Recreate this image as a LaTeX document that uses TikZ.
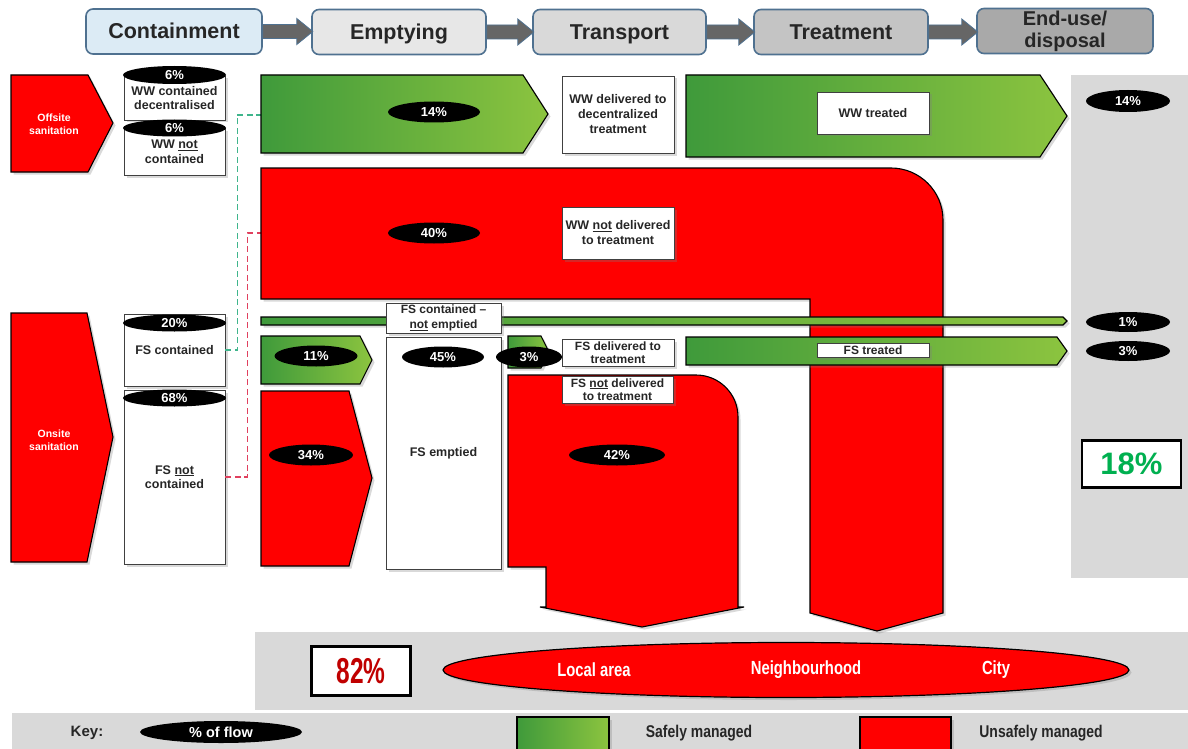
\documentclass[tikz,border=0pt]{standalone}
\usepackage{fontspec}
\usepackage{graphicx}
\setmainfont{Liberation Sans}
\usetikzlibrary{shapes.geometric,shadows}
\definecolor{hdrb}{HTML}{4F7190}
\definecolor{hcA}{HTML}{DCEBF5}
\definecolor{hcB}{HTML}{E7E7E7}
\definecolor{hcC}{HTML}{D9D9D9}
\definecolor{hcD}{HTML}{C4C4C4}
\definecolor{hcE}{HTML}{A9A9A9}
\definecolor{harrowc}{HTML}{666666}
\definecolor{sred}{HTML}{FF0000}
\definecolor{panel}{HTML}{D9D9D9}
\definecolor{gdark}{HTML}{3F9A3B}
\definecolor{glight}{HTML}{8CC43F}
\definecolor{tealdash}{HTML}{3FB58C}
\definecolor{reddash}{HTML}{E0405E}
\definecolor{darkred}{HTML}{C00000}
\definecolor{okgreen}{HTML}{00B050}
\definecolor{txt}{HTML}{262626}
\begin{document}
\begin{tikzpicture}[x=1pt,y=-1pt,
  softshadow/.style={drop shadow={opacity=0.3,shadow xshift=2.5pt,shadow yshift=-2.5pt}},
  hdr/.style={draw=hdrb,line width=1.6pt,rounded corners=7pt,minimum height=45pt,inner sep=0pt,text=txt,text height=17pt,text depth=2pt,font=\fontsize{21.5}{21.5}\selectfont\bfseries},
  harrow/.style={fill=harrowc,draw=hdrb,line width=0.8pt},
  pill/.style={ellipse,fill=black,inner sep=0pt,text=white,font=\fontsize{13}{14}\selectfont\bfseries},
  wbox/.style={draw=black!75,fill=white,align=center,inner sep=0pt,line width=0.8pt,text=txt,font=\fontsize{12.5}{14.5}\selectfont\bfseries,softshadow},
  redflow/.style={fill=sred,draw=black,line width=1.1pt,softshadow},
  greenflow/.style={left color=gdark,right color=glight,draw=black,line width=1.1pt,softshadow},
  srclbl/.style={text=white,align=center,font=\fontsize{10.5}{13}\selectfont\bfseries},
  bigbox/.style={draw=black,line width=2.5pt,fill=white,inner sep=0pt,minimum width=99pt,minimum height=47pt},
  narrow/.style={text=white,font=\fontsize{19}{20}\selectfont\bfseries},
  keytxt/.style={text=txt,font=\fontsize{17}{18}\selectfont\bfseries},
  flowdash/.style={line width=1.5pt,dash pattern=on 6pt off 3.5pt},
]
\useasboundingbox (0,0) rectangle (1188,749);

% ---------- header ----------
\node[hdr,fill=hcA,minimum width=176pt] (contain) at (174,31.5) {Containment};
\node[hdr,fill=hcB,minimum width=174pt] (empty) at (399,32) {Emptying};
\node[hdr,fill=hcC,minimum width=173pt] (transp) at (619.5,32) {Transport};
\node[hdr,fill=hcD,minimum width=174pt] (treat) at (841,32) {Treatment};
\node[hdr,fill=hcE,minimum width=176pt,align=center,text height=,text depth=,font=\fontsize{20}{22}\selectfont\bfseries] (enduse) at (1065,31) {End-use/\\disposal};
\path[harrow] (contain.east) ++(0,-7) -- ++(34,0) -- ++(0,-6) -- ++(16,13) -- ++(-16,13) -- ++(0,-6) -- ++(-34,0) -- cycle;
\path[harrow] (empty.east) ++(0,-7) -- ++(31,0) -- ++(0,-6) -- ++(16,13) -- ++(-16,13) -- ++(0,-6) -- ++(-31,0) -- cycle;
\path[harrow] (transp.east) ++(0,-7) -- ++(32,0) -- ++(0,-6) -- ++(16,13) -- ++(-16,13) -- ++(0,-6) -- ++(-32,0) -- cycle;
\path[harrow] (treat.east) ++(0,-7) -- ++(33,0) -- ++(0,-6) -- ++(16,13) -- ++(-16,13) -- ++(0,-6) -- ++(-33,0) -- cycle;

% ---------- panels ----------
\fill[panel] (1071,75) rectangle (1188,578);
\fill[panel] (255,632) rectangle (1188,710);
\fill[panel] (12,713) rectangle (1188,752);

% ---------- sources ----------
\path[redflow] (11,75) -- (88,75) -- (113,123) -- (88,172) -- (11,172) -- cycle;
\node[srclbl] (offsite) at (54,124) {Offsite\\sanitation};
\path[redflow] (11,313) -- (87,313) -- (113,437) -- (87,562) -- (11,562) -- cycle;
\node[srclbl] (onsite) at (54,440) {Onsite\\sanitation};

% ---------- containment boxes ----------
\node[wbox,minimum width=101pt,minimum height=44pt] (wwc) at (174.5,98) {WW contained\\decentralised};
\node[pill,minimum width=103pt,minimum height=18pt] (p6a) at (174.5,75) {6\%};
\node[wbox,minimum width=101pt,minimum height=47pt] (wwnc) at (174.5,152) {WW \underline{not}\\contained};
\node[pill,minimum width=103pt,minimum height=17pt] (p6b) at (174.5,128) {6\%};
\node[wbox,minimum width=101pt,minimum height=72pt] (fsc) at (174.5,350) {FS contained};
\node[pill,minimum width=103pt,minimum height=17pt] (p20) at (174.5,323) {20\%};
\node[wbox,minimum width=101pt,minimum height=174pt] (fsnc) at (174.5,477) {FS \underline{not}\\contained};
\node[pill,minimum width=103pt,minimum height=17pt] (p68) at (174.5,398) {68\%};

% ---------- flows ----------
\coordinate (g14in) at (261,115);
\coordinate (r40in) at (261,233);
\draw[flowdash,draw=tealdash] (fsc.east) -- ++(12,0) |- (g14in);
\draw[flowdash,draw=reddash] (fsnc.east) -- ++(22,0) |- (r40in);

\path[greenflow] (261,75) -- (523,75) -- (548,114) -- (523,153) -- (261,153) -- cycle;
\path[greenflow] (686,75) -- (1040,75) -- (1067,116) -- (1040,157) -- (686,157) -- cycle;

\path[redflow] (261,168) -- (891,168) .. controls (919.7,168) and (943,191.3) .. (943,220) -- (943,613) -- (877,631) -- (810,613) -- (810,299) -- (261,299) -- cycle;

\path[greenflow] (261,317) -- (1063,317) -- (1067,321) -- (1063,325) -- (261,325) -- cycle;
\path[greenflow] (261,336) -- (360,336) -- (372,360) -- (360,384) -- (261,384) -- cycle;
\path[redflow] (261,391) -- (349,391) -- (372,478) -- (349,566) -- (261,566) -- cycle;
\path[greenflow] (508,336) -- (541,336) -- (549,352) -- (541,368) -- (508,368) -- cycle;
\path[greenflow] (686,337) -- (1057,337) -- (1067,351) -- (1057,365) -- (686,365) -- cycle;

\path[redflow] (508,375) -- (696,375) .. controls (719.2,375) and (738,393.8) .. (738,417) -- (738,607) -- (744,607) -- (642,627) -- (540,607) -- (546,607) -- (546,567) -- (508,567) -- cycle;

% ---------- labels on flows ----------
\node[wbox,minimum width=112pt,minimum height=77pt,font=\fontsize{12.5}{15}\selectfont\bfseries] (wwdel) at (618,114.5) {WW delivered to\\decentralized\\treatment};
\node[wbox,minimum width=112pt,minimum height=42pt,font=\fontsize{12.5}{13}\selectfont\bfseries] (wwtr) at (873,113) {WW treated};
\node[wbox,minimum width=112pt,minimum height=52pt,font=\fontsize{12.5}{15}\selectfont\bfseries] (wwnd) at (618,233) {WW \underline{not} delivered\\to treatment};
\node[wbox,minimum width=115pt,minimum height=30pt,font=\fontsize{12}{15}\selectfont\bfseries] (fscne) at (443.5,318) {FS contained --\\\underline{not} emptied};
\node[wbox,minimum width=115pt,minimum height=232pt] (fsemp) at (443.5,453) {FS emptied};
\node[wbox,minimum width=112pt,minimum height=27pt,font=\fontsize{12}{13.5}\selectfont\bfseries] (fsdel) at (618,352.5) {FS delivered to\\treatment};
\node[wbox,minimum width=111pt,minimum height=27pt,font=\fontsize{12}{13.5}\selectfont\bfseries] (fsnd) at (617.5,389.5) {FS \underline{not} delivered\\to treatment};
\node[wbox,minimum width=112pt,minimum height=14pt,font=\fontsize{12}{12}\selectfont\bfseries] (fstr) at (873,350) {FS treated};

% ---------- percentage pills ----------
\node[pill,minimum width=92pt,minimum height=21pt] (p14a) at (434,112) {14\%};
\node[pill,minimum width=92pt,minimum height=21pt] (p40) at (434,233) {40\%};
\node[pill,minimum width=83pt,minimum height=21pt] (p11) at (316,356) {11\%};
\node[pill,minimum width=82pt,minimum height=21pt] (p45) at (443,357) {45\%};
\node[pill,minimum width=66pt,minimum height=21pt] (p3a) at (529,357) {3\%};
\node[pill,minimum width=84pt,minimum height=21pt] (p34) at (311,455) {34\%};
\node[pill,minimum width=96pt,minimum height=21pt] (p42) at (617,455) {42\%};
\node[pill,minimum width=84pt,minimum height=22pt] (p14b) at (1128,101) {14\%};
\node[pill,minimum width=84pt,minimum height=20pt] (p1) at (1128,322) {1\%};
\node[pill,minimum width=84pt,minimum height=20pt] (p3b) at (1128,351) {3\%};

% ---------- totals ----------
\node[bigbox,text=okgreen,font=\fontsize{31}{31}\selectfont\bfseries] (safe) at (1131.5,464) {18\%};
\node[bigbox,minimum height=49pt,text=darkred,font=\fontsize{36}{36}\selectfont\bfseries] (unsafe) at (361,671) {\scalebox{0.68}[1]{82\%}};
\node[ellipse,fill=sred,draw=black,line width=1.2pt,minimum width=686pt,minimum height=55pt,softshadow] (area) at (786,670) {};
\node[narrow] (local) at (594,670) {\scalebox{0.78}[1]{Local area}};
\node[narrow] (neigh) at (806,670) {\scalebox{0.78}[1]{Neighbourhood}};
\node[narrow] (city) at (996,670) {\scalebox{0.78}[1]{City}};

% ---------- key ----------
\node[keytxt,font=\fontsize{15}{16}\selectfont\bfseries] (key) at (87,733) {Key:};
\node[pill,minimum width=162pt,minimum height=22pt,font=\fontsize{14.5}{15}\selectfont\bfseries] (pkey) at (221,732) {\% of flow};
\path[greenflow] (517,717) rectangle (609,753);
\path[redflow] (860,717) rectangle (951,753);
\node[keytxt] (safelbl) at (699,733) {\scalebox{0.82}[1]{Safely managed}};
\node[keytxt] (unsafelbl) at (1041,733) {\scalebox{0.82}[1]{Unsafely managed}};
\end{tikzpicture}
\end{document}
